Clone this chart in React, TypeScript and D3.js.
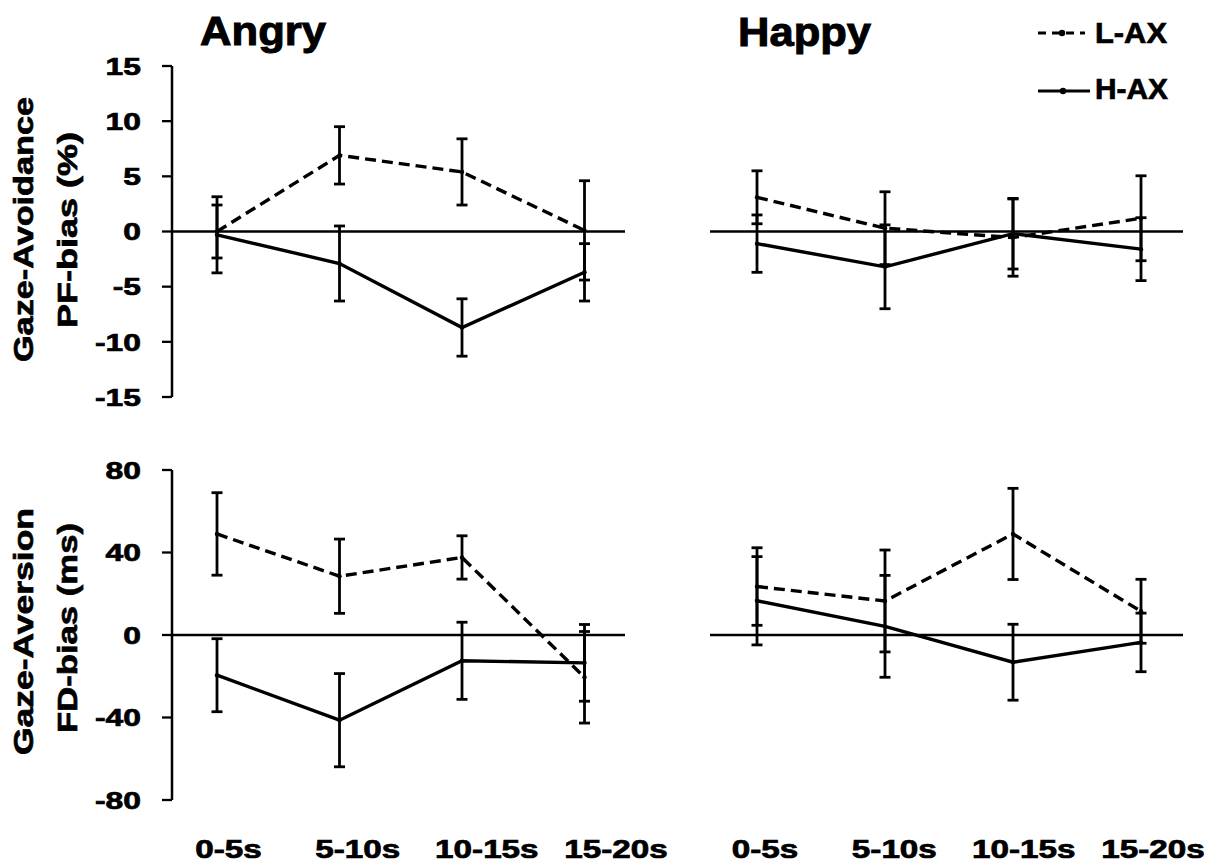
import React from "react";
import * as d3 from "d3";

const categories = ["0-5s", "5-10s", "10-15s", "15-20s"];
const seriesNames = ["L-AX", "H-AX"];

// Top row: Gaze-Avoidance PF-bias (%)
const angryPF_LAX = [0.0, 6.9, 5.4, 0.1];
const angryPF_LAX_err = [2.4, 2.6, 3.0, 4.5];
const angryPF_HAX = [-0.3, -2.9, -8.7, -3.7];
const angryPF_HAX_err = [3.45, 3.4, 2.6, 2.6];
const happyPF_LAX = [3.1, 0.3, -0.55, 1.2];
const happyPF_LAX_err = [2.4, 3.3, 3.5, 3.85];
const happyPF_HAX = [-1.1, -3.2, -0.2, -1.6];
const happyPF_HAX_err = [2.6, 3.8, 3.2, 2.85];

// Bottom row: Gaze-Aversion FD-bias (ms)
const angryFD_LAX = [49, 28.5, 37.6, -20.5];
const angryFD_LAX_err = [20, 18, 10.5, 22.2];
const angryFD_HAX = [-19.5, -41.3, -12.5, -13.5];
const angryFD_HAX_err = [17.7, 22.6, 18.7, 18.6];
const happyFD_LAX = [23.5, 16.5, 49, 11.5];
const happyFD_LAX_err = [18.8, 24.7, 22.1, 15.5];
const happyFD_HAX = [16.6, 4.2, -13.2, -3.6];
const happyFD_HAX_err = [21.4, 24.7, 18.4, 14.2];

const pfTicks = [15, 10, 5, 0, -5, -10, -15];
const fdTicks = [80, 40, 0, -40, -80];

const FONT = "'Liberation Sans', Arial, Helvetica, sans-serif";

type Series = { values: number[]; errs: number[]; dashed: boolean };

function Panel({
  x,
  y,
  series,
  zeroX0,
  zeroX1,
}: {
  x: d3.ScalePoint<string>;
  y: d3.ScaleLinear<number, number>;
  series: Series[];
  zeroX0: number;
  zeroX1: number;
}) {
  const line = d3
    .line<number>()
    .x((_, i) => x(categories[i]) as number)
    .y((v) => y(v));
  const cap = 5.5;
  return (
    <g>
      <line x1={zeroX0} x2={zeroX1} y1={y(0)} y2={y(0)} stroke="#000" strokeWidth={2.3} />
      {series.map((s, si) => (
        <g key={si}>
          <path
            d={line(s.values) || ""}
            fill="none"
            stroke="#000"
            strokeWidth={3.4}
            strokeDasharray={s.dashed ? "11,6" : undefined}
          />
          {s.values.map((v, i) => {
            const cx = x(categories[i]) as number;
            const yt = y(v + s.errs[i]);
            const yb = y(v - s.errs[i]);
            return (
              <g key={i} stroke="#000" strokeWidth={2.8}>
                <line x1={cx} x2={cx} y1={yt} y2={yb} />
                <line x1={cx - cap} x2={cx + cap} y1={yt} y2={yt} />
                <line x1={cx - cap} x2={cx + cap} y1={yb} y2={yb} />
                <circle cx={cx} cy={y(v)} r={2.2} fill="#000" stroke="none" />
              </g>
            );
          })}
        </g>
      ))}
    </g>
  );
}

const textProps = {
  fontFamily: FONT,
  fontWeight: "bold" as const,
  fill: "#000",
  stroke: "#000",
  strokeWidth: 0.7,
};

function YAxis({
  y,
  ticks,
  axisX,
}: {
  y: d3.ScaleLinear<number, number>;
  ticks: number[];
  axisX: number;
}) {
  const [d0, d1] = y.domain();
  return (
    <g>
      <line x1={axisX} x2={axisX} y1={y(d0)} y2={y(d1)} stroke="#000" strokeWidth={2.5} />
      {ticks.map((t) => (
        <g key={t}>
          <line x1={axisX - 10} x2={axisX} y1={y(t)} y2={y(t)} stroke="#000" strokeWidth={2.3} />
          <text
            transform={`translate(141,${y(t)}) scale(1.3,1)`}
            textAnchor="end"
            dy="0.36em"
            fontSize={24.5}
            {...textProps}
          >
            {t}
          </text>
        </g>
      ))}
    </g>
  );
}

export default function App() {
  const xLeft = d3.scalePoint<string>().domain(categories).range([217, 584.5]);
  const xRight = d3.scalePoint<string>().domain(categories).range([757, 1141]);
  const xLabLeft = d3.scalePoint<string>().domain(categories).range([228.5, 616]);
  const xLabRight = d3.scalePoint<string>().domain(categories).range([765, 1153]);
  const yTop = d3.scaleLinear().domain([-15, 15]).range([397, 66]);
  const yBot = d3.scaleLinear().domain([-80, 80]).range([800, 470]);

  const mk = (values: number[], errs: number[], dashed: boolean): Series => ({ values, errs, dashed });

  return (
    <svg
      width={1207}
      height={865}
      style={{ position: "absolute", left: 0, top: 0, background: "#fff" }}
    >
      <rect width={1207} height={865} fill="#fff" />
      {/* titles */}
      <text x={200} y={45} fontSize={40} textLength={126} lengthAdjust="spacingAndGlyphs" {...textProps} strokeWidth={1}>
        Angry
      </text>
      <text x={738} y={46} fontSize={40} textLength={133} lengthAdjust="spacingAndGlyphs" {...textProps} strokeWidth={1}>
        Happy
      </text>

      {/* legend */}
      <g>
        <line x1={1038} x2={1085} y1={33} y2={33} stroke="#000" strokeWidth={3.2} strokeDasharray="8,6" />
        <circle cx={1062} cy={33} r={3.2} fill="#000" />
        <text x={1095} y={43} fontSize={29} textLength={72} lengthAdjust="spacingAndGlyphs" {...textProps}>
          {seriesNames[0]}
        </text>
        <line x1={1038} x2={1090} y1={91} y2={91} stroke="#000" strokeWidth={3.2} />
        <circle cx={1063} cy={91} r={3.2} fill="#000" />
        <text x={1095} y={99} fontSize={29} textLength={73} lengthAdjust="spacingAndGlyphs" {...textProps}>
          {seriesNames[1]}
        </text>
      </g>

      {/* y-axis titles */}
      <text
        transform="translate(33,229.5) rotate(-90)"
        textAnchor="middle"
        fontSize={28}
        textLength={265}
        lengthAdjust="spacingAndGlyphs"
        {...textProps}
      >
        Gaze-Avoidance
      </text>
      <text
        transform="translate(77,230) rotate(-90)"
        textAnchor="middle"
        fontSize={28}
        textLength={196}
        lengthAdjust="spacingAndGlyphs"
        {...textProps}
      >
        PF-bias (%)
      </text>
      <text
        transform="translate(33,631.5) rotate(-90)"
        textAnchor="middle"
        fontSize={28}
        textLength={247}
        lengthAdjust="spacingAndGlyphs"
        {...textProps}
      >
        Gaze-Aversion
      </text>
      <text
        transform="translate(77,628) rotate(-90)"
        textAnchor="middle"
        fontSize={28}
        textLength={210}
        lengthAdjust="spacingAndGlyphs"
        {...textProps}
      >
        FD-bias (ms)
      </text>

      <YAxis y={yTop} ticks={pfTicks} axisX={172} />
      <YAxis y={yBot} ticks={fdTicks} axisX={172} />

      <Panel
        x={xLeft}
        y={yTop}
        zeroX0={172}
        zeroX1={625}
        series={[mk(angryPF_LAX, angryPF_LAX_err, true), mk(angryPF_HAX, angryPF_HAX_err, false)]}
      />
      <Panel
        x={xRight}
        y={yTop}
        zeroX0={710}
        zeroX1={1183}
        series={[mk(happyPF_LAX, happyPF_LAX_err, true), mk(happyPF_HAX, happyPF_HAX_err, false)]}
      />
      <Panel
        x={xLeft}
        y={yBot}
        zeroX0={172}
        zeroX1={625}
        series={[mk(angryFD_LAX, angryFD_LAX_err, true), mk(angryFD_HAX, angryFD_HAX_err, false)]}
      />
      <Panel
        x={xRight}
        y={yBot}
        zeroX0={710}
        zeroX1={1183}
        series={[mk(happyFD_LAX, happyFD_LAX_err, true), mk(happyFD_HAX, happyFD_HAX_err, false)]}
      />

      {/* x labels */}
      {categories.map((c) => (
        <text
          key={"l" + c}
          transform={`translate(${xLabLeft(c)},858) scale(1.33,1)`}
          textAnchor="middle"
          fontSize={25}
          {...textProps}
        >
          {c}
        </text>
      ))}
      {categories.map((c) => (
        <text
          key={"r" + c}
          transform={`translate(${xLabRight(c)},858) scale(1.33,1)`}
          textAnchor="middle"
          fontSize={25}
          {...textProps}
        >
          {c}
        </text>
      ))}
    </svg>
  );
}
